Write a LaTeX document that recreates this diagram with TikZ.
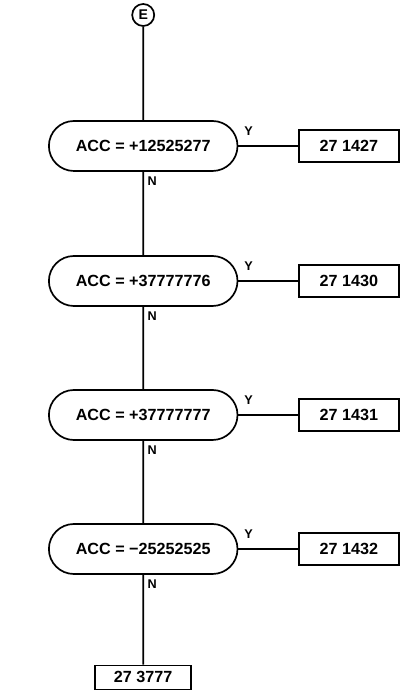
\documentclass[tikz,border=0pt]{standalone}
\usepackage{fontspec}
\setsansfont{Liberation Sans}
\usetikzlibrary{shapes.misc,positioning}
\tikzset{
  test/.style={draw, rounded rectangle, line width=1.2pt, minimum width=4.95cm,
    minimum height=1.25cm, font=\sffamily\bfseries\fontsize{11.5}{13}\selectfont},
  exitbox/.style={draw, rectangle, line width=1.2pt, minimum width=2.5cm,
    minimum height=0.8cm, font=\sffamily\bfseries\fontsize{11.5}{13}\selectfont},
  conn/.style={draw, circle, line width=1.2pt, minimum size=0.55cm, inner sep=0pt,
    font=\sffamily\bfseries\fontsize{10}{12}\selectfont},
  flow/.style={line width=1.2pt},
  yn/.style={font=\sffamily\bfseries\fontsize{9}{10}\selectfont, inner sep=1pt}
}
\begin{document}
\begin{tikzpicture}
	\useasboundingbox (0,0) rectangle (10,17.475);
	% entry connector
	\node[conn] (E) at (3.58,17.1) {E};
	% the four tests and their exits
	\foreach \i/\y/\acc/\dest in {1/13.825/+12525277/27 1427, 2/10.45/+37777776/27 1430,
		3/7.1/+37777777/27 1431, 4/3.75/−25252525/27 1432}
	{
		\node[test] (d\i) at (3.58,\y) {ACC = \acc};
		\node[exitbox] (b\i) at (8.72,\y) {\dest};
		\draw[flow] (d\i.east) -- (b\i.west);
		\node[yn, anchor=south west] (y\i) at ([xshift=3pt,yshift=6pt]d\i.east) {Y};
		\node[yn, anchor=north west] (n\i) at ([xshift=2pt,yshift=-2pt]d\i.south) {N};
	}
	% final exit
	\node[exitbox, minimum width=2.4cm, minimum height=0.6cm] (out) at (3.58,0.54) {27 3777};
	\draw[flow] (E) -- (d1);
	\draw[flow] (d1) -- (d2);
	\draw[flow] (d2) -- (d3);
	\draw[flow] (d3) -- (d4);
	\draw[flow] (d4) -- (out);
\end{tikzpicture}
\end{document}
